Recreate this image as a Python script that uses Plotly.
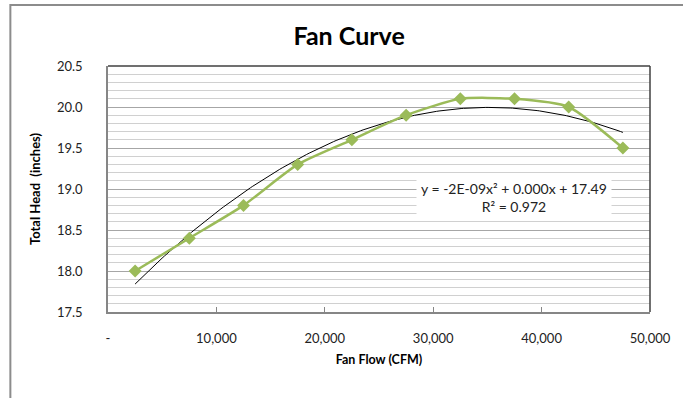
import numpy as np
import plotly.graph_objects as go

flow = [2500, 7500, 12500, 17500, 22500, 27500, 32500, 37500, 42500, 47500]
head = [18.0, 18.4, 18.8, 19.3, 19.6, 19.9, 20.1, 20.1, 20.0, 19.5]
x_tickvals = [0, 10000, 20000, 30000, 40000, 50000]
x_ticktext = ["-", "10,000", "20,000", "30,000", "40,000", "50,000"]
y_tickvals = [17.5, 18.0, 18.5, 19.0, 19.5, 20.0, 20.5]
eq_text = "y = -2E-09x² + 0.000x + 17.49<br>R² = 0.972"

# polynomial (order 2) trendline of the data, as the spreadsheet does
coef = np.polyfit(flow, head, 2)
tx = np.linspace(flow[0], flow[-1], 200)
ty = np.polyval(coef, tx)

FONT = "Lato"
fig = go.Figure()
fig.add_trace(go.Scatter(x=tx, y=ty, mode="lines",
                         line=dict(color="#000000", width=1), hoverinfo="skip"))
fig.add_trace(go.Scatter(x=flow, y=head, mode="lines+markers",
                         line=dict(color="#9BBB59", width=2.5, shape="spline", smoothing=0.6),
                         marker=dict(symbol="diamond", size=10, color="#9BBB59")))

fig.update_layout(
    width=683, height=398,
    margin=dict(l=108, r=31, t=66, b=86),
    paper_bgcolor="white", plot_bgcolor="white",
    showlegend=False,
    font=dict(family=FONT, color="#222222", size=12),
    title=dict(text="<b>Fan Curve</b>", x=(350 - 108) / 544, xref="paper", xanchor="center",
               y=1 - 36 / 398, yanchor="middle", yref="container",
               font=dict(family=FONT, size=25, color="#000000")),
    xaxis=dict(range=[0, 50000], tickvals=x_tickvals, ticktext=x_ticktext,
               showgrid=False, zeroline=False, showline=True, linecolor="#868686", linewidth=1.5,
               ticks="inside", ticklen=5, tickcolor="#868686", ticklabelstandoff=14,
               tickfont=dict(size=13, family=FONT, color="#222222"),
               title=dict(text="<b>Fan Flow (CFM)</b>", font=dict(size=12.5, family=FONT, color="#000"),
                          standoff=10)),
    yaxis=dict(range=[17.5, 20.5], tickvals=y_tickvals, tickformat=".1f",
               showgrid=True, gridcolor="#A6A6A6", gridwidth=1.2,
               minor=dict(dtick=0.1, showgrid=True, gridcolor="#D0D0D0", gridwidth=1),
               zeroline=False, showline=True, linecolor="#868686", linewidth=1.5,
               ticks="", ticklabelstandoff=21,
               tickfont=dict(size=13, family=FONT, color="#222222"),
               title=dict(text="<b>Total Head&nbsp;&nbsp;(inches)</b>",
                          font=dict(size=13, family=FONT, color="#000"), standoff=13)),
)

# plot area top/right border (dark)
fig.add_shape(type="line", xref="paper", yref="paper", x0=0, x1=1, y0=1, y1=1,
              line=dict(color="#404040", width=1.5))
fig.add_shape(type="line", xref="paper", yref="paper", x0=1, x1=1, y0=0, y1=1,
              line=dict(color="#404040", width=1.5))
# chart area border
fig.add_shape(type="rect", xref="paper", yref="paper",
              x0=(10 - 108) / 544, x1=(700 - 108) / 544,
              y0=(312 - 420) / 246, y1=1 + (66 - 5) / 246,
              line=dict(color="#8C8C8C", width=2), layer="below")

fig.add_annotation(x=(515 - 108) / 544, y=(312 - 197) / 246, xref="paper", yref="paper",
                   xanchor="center", yanchor="middle",
                   text=eq_text, showarrow=False, align="center",
                   bgcolor="white", borderpad=4,
                   font=dict(family=FONT, size=14, color="#222222"))

fig.write_html("out.html", config={"displayModeBar": False},
               post_script="document.body.style.margin='0';")
